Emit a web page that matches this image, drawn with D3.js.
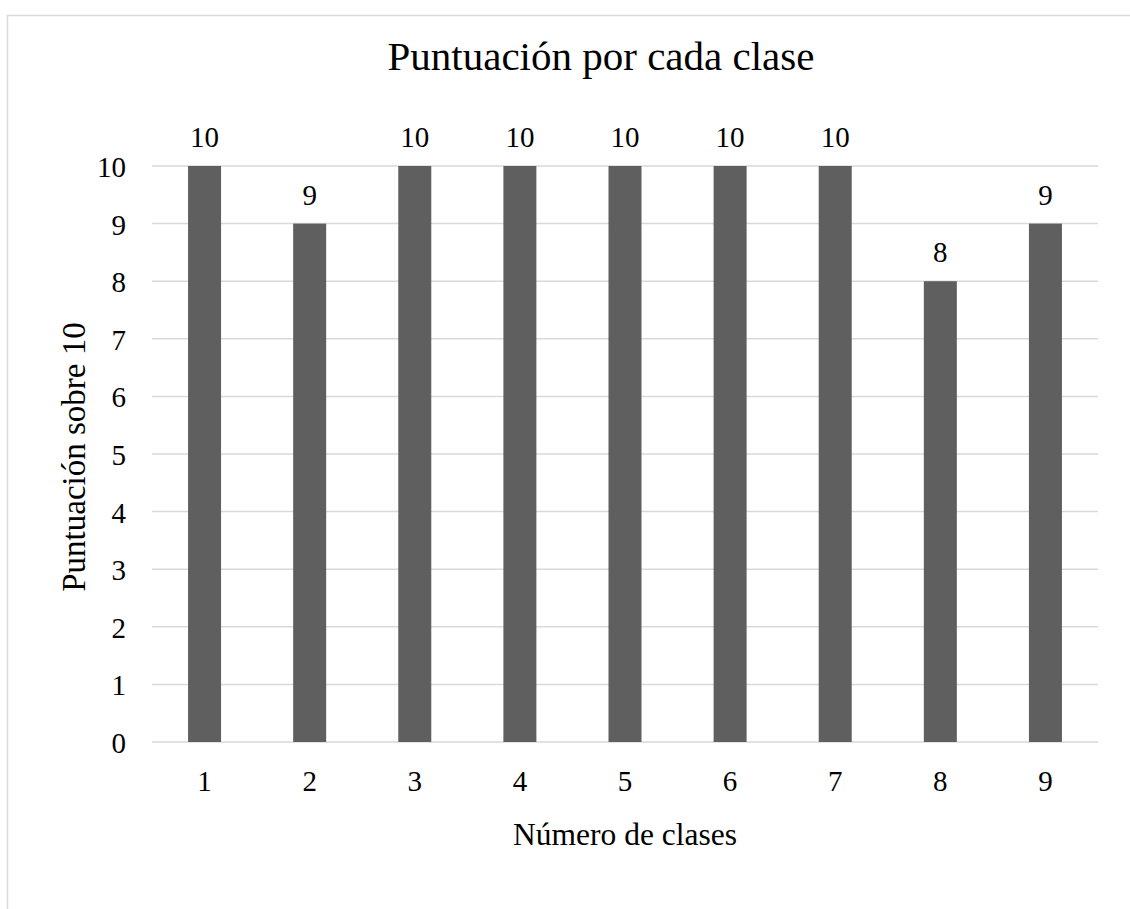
<!DOCTYPE html>
<html>
<head>
<meta charset="utf-8">
<script src="https://cdn.jsdelivr.net/npm/d3@7"></script>
<style>
  html, body { margin: 0; padding: 0; background: #fff; }
  svg { display: block; font-family: "Liberation Serif", "Times New Roman", serif; }
  text { font-family: "Liberation Serif", "Times New Roman", serif; fill: #000; }
</style>
</head>
<body>
<svg id="chart" width="1130" height="909"></svg>
<script>
const categories = ["1", "2", "3", "4", "5", "6", "7", "8", "9"];
const values = [10, 9, 10, 10, 10, 10, 10, 8, 9];
const yTicks = [0, 1, 2, 3, 4, 5, 6, 7, 8, 9, 10];
const titleText = "Puntuación por cada clase";
const xTitle = "Número de clases";
const yTitle = "Puntuación sobre 10";

const svg = d3.select("#chart");
const W = 1130, H = 909;
const plot = { left: 152, right: 1098, top: 166, bottom: 742 };
const FONT = "Liberation Serif";

// chart border
svg.append("rect")
  .attr("x", 7.5).attr("y", 15.5)
  .attr("width", W + 20).attr("height", H + 20)
  .attr("fill", "none").attr("stroke", "#d9d9d9").attr("stroke-width", 1.5);

const x = d3.scaleBand().domain(categories).range([plot.left, plot.right]).paddingInner(0.686).paddingOuter(0.343);
const y = d3.scaleLinear().domain([0, 10]).range([plot.bottom, plot.top]);

// gridlines
svg.append("g").selectAll("line").data(yTicks).join("line")
  .attr("x1", plot.left).attr("x2", plot.right)
  .attr("y1", d => y(d)).attr("y2", d => y(d))
  .attr("stroke", "#d9d9d9").attr("stroke-width", 1.5);

// y tick labels
svg.append("g").selectAll("text").data(yTicks).join("text")
  .attr("x", 126).attr("y", d => y(d) + 11)
  .attr("text-anchor", "end").attr("font-size", 29).attr("font-family", FONT)
  .text(d => d);

// bars
svg.append("g").selectAll("rect").data(values).join("rect")
  .attr("x", (d, i) => x(categories[i]))
  .attr("width", x.bandwidth())
  .attr("y", d => y(d))
  .attr("height", d => y(0) - y(d))
  .attr("fill", "#5f5f5f");

// data labels
svg.append("g").selectAll("text").data(values).join("text")
  .attr("x", (d, i) => x(categories[i]) + x.bandwidth() / 2)
  .attr("y", d => y(d) - 19)
  .attr("text-anchor", "middle").attr("font-size", 29).attr("font-family", FONT)
  .text(d => d);

// x tick labels
svg.append("g").selectAll("text").data(categories).join("text")
  .attr("x", d => x(d) + x.bandwidth() / 2)
  .attr("y", 791)
  .attr("text-anchor", "middle").attr("font-size", 29).attr("font-family", FONT)
  .text(d => d);

// title
svg.append("text")
  .attr("x", 601).attr("y", 70)
  .attr("text-anchor", "middle").attr("font-size", 41).attr("font-family", FONT)
  .text(titleText);

// x axis title
svg.append("text")
  .attr("x", 625).attr("y", 845)
  .attr("text-anchor", "middle").attr("font-size", 31.5).attr("font-family", FONT)
  .text(xTitle);

// y axis title
svg.append("text")
  .attr("transform", "translate(85,457) rotate(-90)")
  .attr("text-anchor", "middle").attr("font-size", 33).attr("font-family", FONT)
  .text(yTitle);
</script>
</body>
</html>
